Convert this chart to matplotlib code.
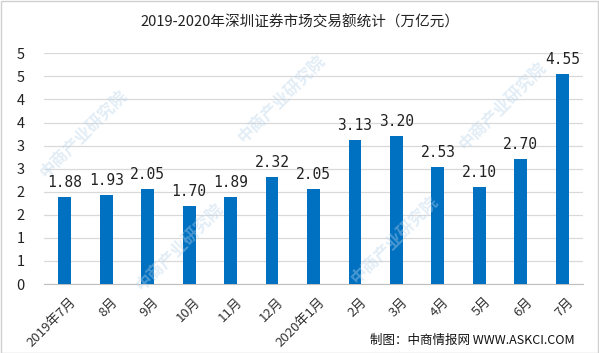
import matplotlib
matplotlib.use("Agg")
import matplotlib.pyplot as plt
from matplotlib.patches import Rectangle

plt.rcParams["font.family"] = ["Noto Sans CJK SC", "DejaVu Sans"]

months = ["2019年7月", "8月", "9月", "10月", "11月", "12月", "2020年1月",
          "2月", "3月", "4月", "5月", "6月", "7月"]
values = [1.88, 1.93, 2.05, 1.70, 1.89, 2.32, 2.05, 3.13, 3.20, 2.53, 2.10, 2.70, 4.55]
yticks = [0, 0.5, 1, 1.5, 2, 2.5, 3, 3.5, 4, 4.5, 5]
# Excel rounds half up: 0.5 -> 1, 2.5 -> 3
ytick_labels = ["0", "1", "1", "2", "2", "3", "3", "4", "4", "5", "5"]

W, H = 599, 353
fig = plt.figure(figsize=(W / 100, H / 100), dpi=100)
ax = fig.add_axes([44 / W, 1 - 284 / H, (583 - 44) / W, (284 - 53.3) / H])

# faint watermark, kept inside the frame
for wx, wy in [(0.14, 0.62), (0.47, 0.72), (0.84, 0.70), (0.30, 0.30), (0.66, 0.32)]:
    fig.text(wx, wy, "中商产业研究院", rotation=45, fontsize=12, color="#b7d3ea",
             alpha=0.4, ha="center", va="center", fontweight="bold", zorder=0)

x = list(range(len(months)))
ax.bar(x, values, width=0.31, color="#0070C0", zorder=3)
for xi, v in zip(x, values):
    ax.annotate(f"{v:.2f}", (xi, v), xytext=(0, 5), textcoords="offset points",
                ha="center", va="bottom", fontsize=10.5, color="#222222",
                family=["DejaVu Sans Mono"])

ax.set_xlim(-0.5, len(months) - 0.5)
ax.set_ylim(0, 5)
ax.set_yticks(yticks)
ax.set_yticklabels(ytick_labels)
ax.yaxis.grid(True, color="#d9d9d9", linewidth=0.9, zorder=0)
ax.set_axisbelow(True)
for s in ["top", "right", "left"]:
    ax.spines[s].set_visible(False)
ax.spines["bottom"].set_color("#bfbfbf")
ax.tick_params(axis="y", length=0, labelsize=10.5, pad=14, labelcolor="#222222")
ax.tick_params(axis="x", length=0, labelsize=9.5, pad=8, labelcolor="#333333")
ax.set_xticks([xi + 0.12 for xi in x])
ax.set_xticklabels(months, rotation=45, ha="right", va="top", rotation_mode="anchor")

fig.text(0.5, 1 - 22 / H, "2019-2020年深圳证券市场交易额统计（万亿元）", ha="center",
         va="center", fontsize=10.5, color="#222222")
fig.text(575 / W, 1 - 340 / H, "制图：中商情报网 WWW.ASKCI.COM", ha="right", va="center",
         fontsize=9, color="#111111")

fig.patches.append(Rectangle((0.5 / W, 0.5 / H), 1 - 1.5 / W, 1 - 1.5 / H,
                             transform=fig.transFigure, fill=False,
                             edgecolor="#d0d0d0", linewidth=1))

fig.savefig("out.png", dpi=100)
